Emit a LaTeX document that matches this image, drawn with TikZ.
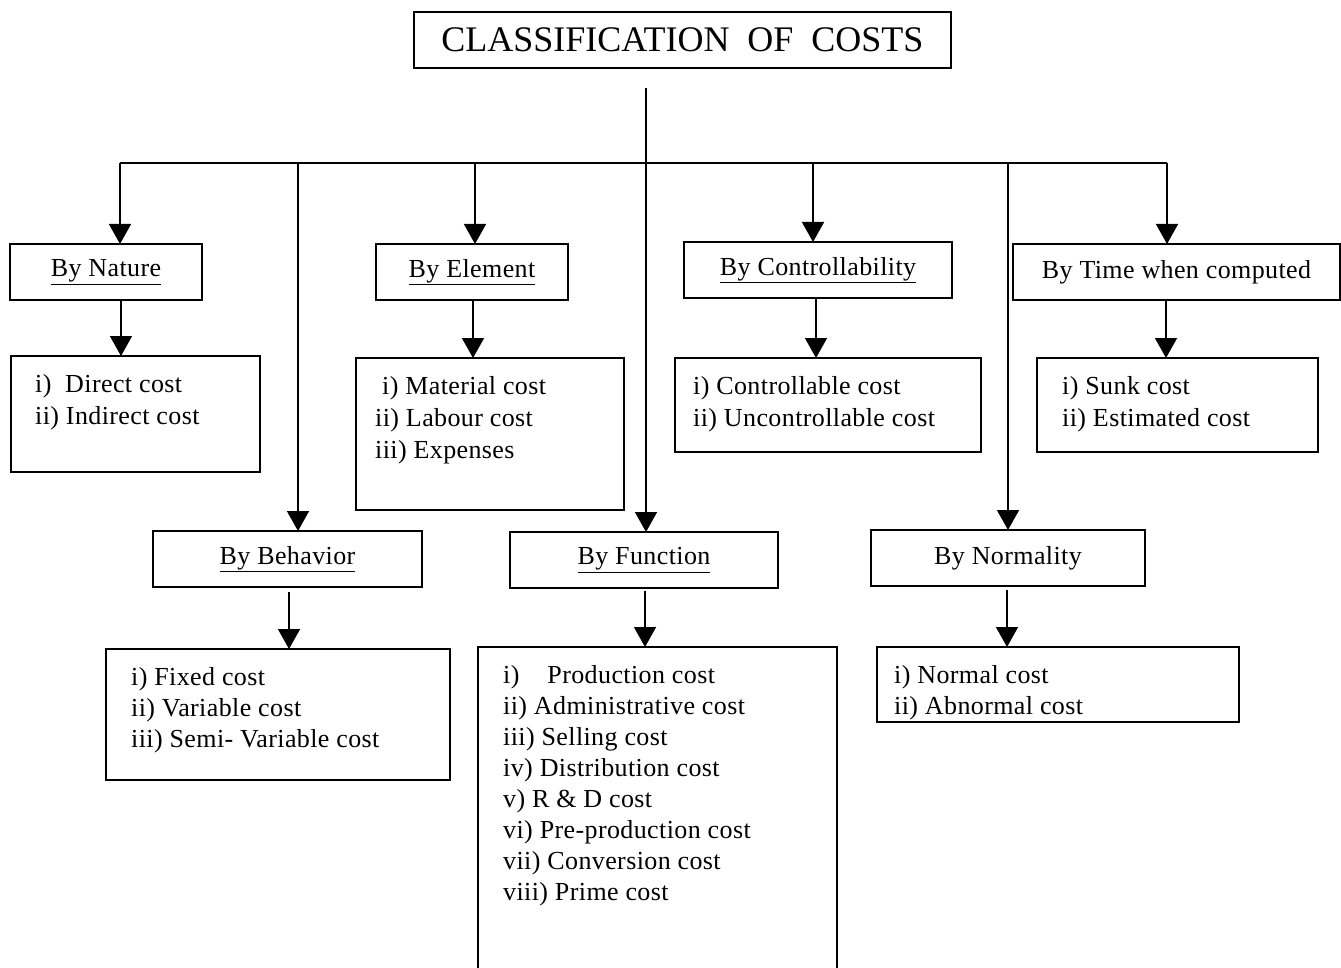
\documentclass[tikz,border=0pt]{standalone}
\usepackage{fontspec}
\setmainfont{Liberation Serif}
\newfontfamily\lsfont[LetterSpace=1.5]{Liberation Serif}
\usetikzlibrary{arrows.meta}
\begin{document}
\begin{tikzpicture}[x=1pt,y=-1pt,
  box/.style={draw, line width=1.6pt, anchor=north west, inner sep=0pt, outer sep=0pt},
  head/.style={box, minimum height=56pt, font=\lsfont\fontsize{26}{30}\selectfont},
  txt/.style={anchor=north west, inner sep=0pt, align=left, font=\lsfont\fontsize{26}{32}\selectfont},
  txtf/.style={txt, font=\lsfont\fontsize{26}{31}\selectfont},
  ln/.style={line width=1.6pt},
  arr/.style={line width=1.6pt, -{Triangle[width=22pt,length=20pt]}}]
\useasboundingbox (0,0) rectangle (1341,968);
\fill[white] (0,0) rectangle (1341,968);

% title
\node[box, minimum width=537pt, minimum height=56pt] (title) at (414,12)
  {\fontsize{36}{40}\selectfont CLASSIFICATION\ \ OF\ \ COSTS};

% headings
\node[head, minimum width=192pt] (nat) at (10,244) {\underline{By Nature}};
\node[head, minimum width=192pt] (ele) at (376,244) {\underline{By Element}};
\node[head, minimum width=268pt] (con) at (684,242) {\underline{By Controllability}};
\node[head, minimum width=327pt] (tim) at (1013,244) {By Time when computed};
\node[head, minimum width=269pt] (beh) at (153,531) {\underline{By Behavior}};
\node[head, minimum width=268pt] (fun) at (510,532) {\underline{By Function}};
\node[head, minimum width=274pt] (nor) at (871,530) {By Normality};

% list boxes
\node[box, minimum width=249pt, minimum height=116pt] (natl) at (11,356) {};
\node[box, minimum width=268pt, minimum height=152pt] (elel) at (356,358) {};
\node[box, minimum width=306pt, minimum height=94pt] (conl) at (675,358) {};
\node[box, minimum width=281pt, minimum height=94pt] (timl) at (1037,358) {};
\node[box, minimum width=344pt, minimum height=131pt] (behl) at (106,649) {};
\node[box, minimum width=359pt, minimum height=345pt] (funl) at (478,647) {};
\node[box, minimum width=362pt, minimum height=75pt] (norl) at (877,647) {};

% list texts
\node[txt] (natt) at (35,374) {i)\ \ Direct cost\\ii) Indirect cost};
\node[txt] (elet) at (375,376) {\hspace*{7pt}i) Material cost\\ii) Labour cost\\iii) Expenses};
\node[txt] (cont) at (693,376) {i) Controllable cost\\ii) Uncontrollable cost};
\node[txt] (timt) at (1062,376) {i) Sunk cost\\ii) Estimated cost};
\node[txtf] (beht) at (131,667) {i) Fixed cost\\ii) Variable cost\\iii) Semi- Variable cost};
\node[txtf] (funt) at (503,665) {i)\hspace{28pt}Production cost\\ii) Administrative cost\\iii) Selling cost\\iv) Distribution cost\\v) R \& D cost\\vi) Pre-production cost\\vii) Conversion cost\\viii) Prime cost};
\node[txtf] (nort) at (894,665) {i) Normal cost\\ii) Abnormal cost};

% trunk and bar
\coordinate (top) at (646,88);
\coordinate (bL) at (120,163);
\coordinate (b2) at (298,163);
\coordinate (b3) at (475,163);
\coordinate (b5) at (813,163);
\coordinate (b6) at (1008,163);
\coordinate (bR) at (1167,163);
\draw[ln] (bL) -- (bR);
\draw[arr] (top) -- (top |- fun.north);
\draw[arr] (bL) -- (bL |- nat.north);
\draw[arr] (b2) -- (b2 |- beh.north);
\draw[arr] (b3) -- (b3 |- ele.north);
\draw[arr] (b5) -- (b5 |- con.north);
\draw[arr] (b6) -- (b6 |- nor.north);
\draw[arr] (bR) -- (bR |- tim.north);

% sub arrows
\coordinate (s1) at ([xshift=15pt]nat.south);
\coordinate (s2) at ([xshift=1pt]ele.south);
\coordinate (s3) at ([xshift=-2pt]con.south);
\coordinate (s4) at ([xshift=-10.5pt]tim.south);
\coordinate (s5) at ([xshift=1.5pt,yshift=-5pt]beh.south);
\coordinate (s6) at ([xshift=1pt,yshift=-3pt]fun.south);
\coordinate (s7) at ([xshift=-1pt,yshift=-4pt]nor.south);
\draw[arr] (s1) -- (s1 |- natl.north);
\draw[arr] (s2) -- (s2 |- elel.north);
\draw[arr] (s3) -- (s3 |- conl.north);
\draw[arr] (s4) -- (s4 |- timl.north);
\draw[arr] (s5) -- (s5 |- behl.north);
\draw[arr] (s6) -- (s6 |- funl.north);
\draw[arr] (s7) -- (s7 |- norl.north);
\end{tikzpicture}
\end{document}
